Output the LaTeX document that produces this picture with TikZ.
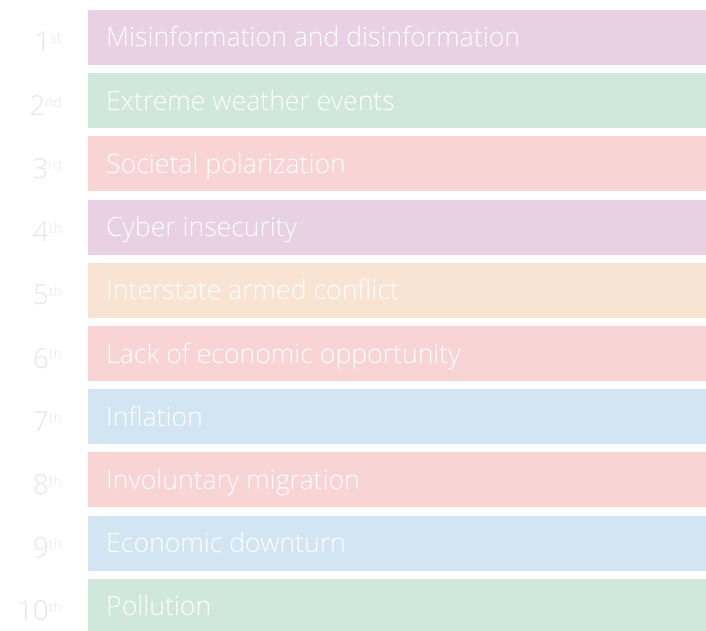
\documentclass[tikz,border=0pt]{standalone}
\usepackage{fontspec}
\setmainfont{Open Sans}[UprightFont=* Light]
\definecolor{cpurple}{HTML}{E8D1E3}
\definecolor{cgreen}{HTML}{D0E7DD}
\definecolor{cpink}{HTML}{F9D4D4}
\definecolor{corange}{HTML}{F9E3D3}
\definecolor{cblue}{HTML}{D3E4F2}
\definecolor{cnum}{HTML}{E6E6E6}
\tikzset{
  bar/.style={fill=#1, draw=none},
  risk/.style={anchor=base west, text=white, font=\fontsize{26.6}{26.6}\selectfont, inner sep=0pt},
  rank/.style={anchor=base east, text=cnum, font=\fontsize{27.5}{27.5}\selectfont, inner sep=0pt},
}
\newcommand{\rk}[2]{#1\raisebox{0.55ex}{\fontsize{14}{14}\selectfont #2}}
\begin{document}
\begin{tikzpicture}[x=1pt,y=-1pt]
\useasboundingbox (0,0) rectangle (706,631);
\fill[white] (0,0) rectangle (706,631);
\foreach \i/\c/\t/\n/\s in {
  0/cpurple/Misinformation and disinformation/1/st,
  1/cgreen/Extreme weather events/2/nd,
  2/cpink/Societal polarization/3/rd,
  3/cpurple/Cyber insecurity/4/th,
  4/corange/Interstate armed conflict/5/th,
  5/cpink/Lack of economic opportunity/6/th,
  6/cblue/Inflation/7/th,
  7/cpink/Involuntary migration/8/th,
  8/cblue/Economic downturn/9/th,
  9/cgreen/Pollution/10/th}
{
  \pgfmathsetmacro{\top}{10+63.2*\i}
  \fill[\c] (88,\top) rectangle (706,\top+55);
  \node[risk] (risk\i) at (106,\top+37) {\t};
  \node[rank] (rank\i) at (62,\top+42) {\rk{\n}{\s}};
}
\end{tikzpicture}
\end{document}
